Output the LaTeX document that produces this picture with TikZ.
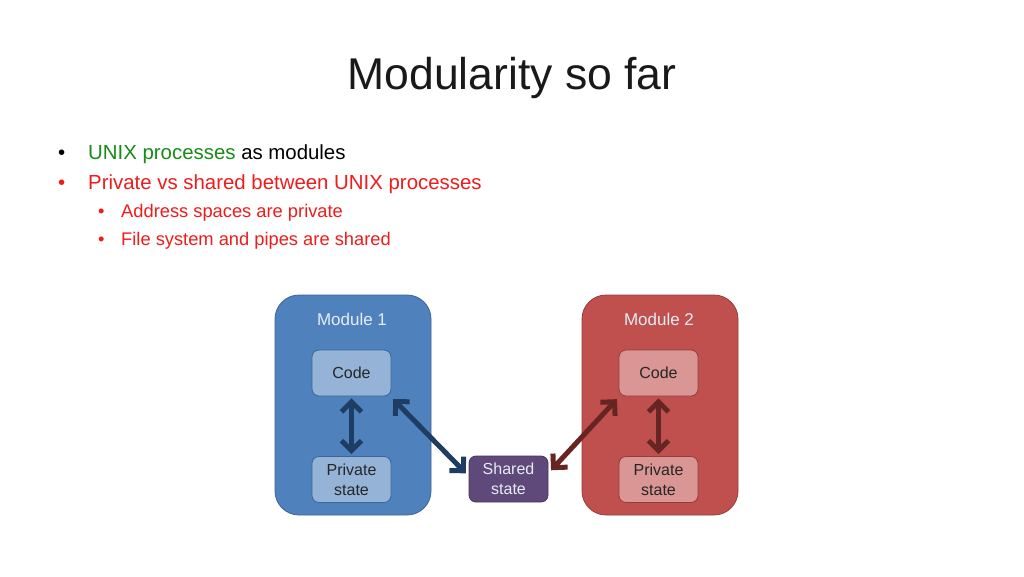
\documentclass[tikz,border=0pt]{standalone}
\usepackage{fontspec}
\setmainfont{Liberation Sans}
\usetikzlibrary{arrows.meta}
\definecolor{modblue}{HTML}{4F81BD}
\definecolor{modblueb}{HTML}{3A6598}
\definecolor{modred}{HTML}{C0504D}
\definecolor{modredb}{HTML}{943C3A}
\definecolor{codeblue}{HTML}{95B3D7}
\definecolor{codebluebd}{HTML}{3A6598}
\definecolor{codered}{HTML}{D99694}
\definecolor{coderedbd}{HTML}{943C3A}
\definecolor{sharedc}{HTML}{5F497A}
\definecolor{sharedb}{HTML}{46365A}
\definecolor{arrblue}{HTML}{1F3D63}
\definecolor{arrred}{HTML}{662422}
\definecolor{txtgreen}{HTML}{178C17}
\definecolor{txtred}{HTML}{EE1C1C}
\definecolor{lbltxt}{HTML}{E6ECF4}
\begin{document}
\begin{tikzpicture}[x=1pt,y=-1pt,
  modbox/.style={draw, line width=0.8pt, rounded corners=24pt, minimum width=156pt, minimum height=220pt, inner sep=0pt},
  smallbox/.style={draw, line width=0.8pt, rounded corners=7pt, minimum width=79pt, minimum height=46pt, inner sep=0pt, align=center, font=\fontsize{16}{20}\selectfont, text=black!85},
  modlabel/.style={font=\fontsize{17}{20}\selectfont, text=lbltxt},
  dbl/.style={line width=5pt, {Straight Barb[length=10pt,width=20pt]}-{Straight Barb[length=10pt,width=20pt]}},
  bul/.style={anchor=base west, inner sep=0pt},
  btxt/.style={bul, font=\fontsize{20.4}{24}\selectfont},
  stxt/.style={bul, font=\fontsize{18.3}{22}\selectfont, text=txtred},
]
\useasboundingbox (0,0) rectangle (1024,576);
\fill[white] (0,0) rectangle (1024,576);

% title
\node[font=\fontsize{44.5}{50}\selectfont, anchor=base, text=black!90] (title) at (512,89) {Modularity so far};

% bullets
\node[btxt] (b1d) at (58,159) {•};
\node[btxt] (b1) at (88,159) {\textcolor{txtgreen}{UNIX processes} as modules};
\node[btxt, text=txtred] (b2d) at (58,189) {•};
\node[btxt, text=txtred] (b2) at (88,189) {Private vs shared between UNIX processes};
\node[stxt] (b3d) at (98,217) {•};
\node[stxt] (b3) at (121,217) {Address spaces are private};
\node[stxt] (b4d) at (98,245) {•};
\node[stxt] (b4) at (121,245) {File system and pipes are shared};

% modules
\node[modbox, fill=modblue, draw=modblueb] (m1) at (353,405) {};
\node[modbox, fill=modred, draw=modredb] (m2) at (660,405) {};
\node[modlabel] (m1l) at (352,319) {Module 1};
\node[modlabel] (m2l) at (659,319) {Module 2};

\node[smallbox, fill=codeblue, draw=codebluebd] (c1) at (351.5,373) {Code};
\node[smallbox, fill=codeblue, draw=codebluebd] (p1) at (351.5,479.5) {Private\\state};
\node[smallbox, fill=codered, draw=coderedbd] (c2) at (658.5,373) {Code};
\node[smallbox, fill=codered, draw=coderedbd] (p2) at (658.5,479.5) {Private\\state};
\node[smallbox, fill=sharedc, draw=sharedb, text=lbltxt] (s) at (508.5,479) {Shared\\state};

% arrows
\draw[dbl, arrblue, shorten <=2pt, shorten >=2pt] (c1) -- (p1);
\draw[dbl, arrred, shorten <=2pt, shorten >=2pt] (c2) -- (p2);
\draw[dbl, arrblue, shorten <=1pt, shorten >=1pt] ([xshift=1pt,yshift=-2pt]c1.south east) -- ([xshift=-2pt,yshift=5pt]s.west);
\draw[dbl, arrred, shorten <=1pt, shorten >=1pt] ([xshift=2pt,yshift=8pt]s.east) -- ([xshift=-1pt,yshift=-2pt]c2.south west);
\end{tikzpicture}
\end{document}
